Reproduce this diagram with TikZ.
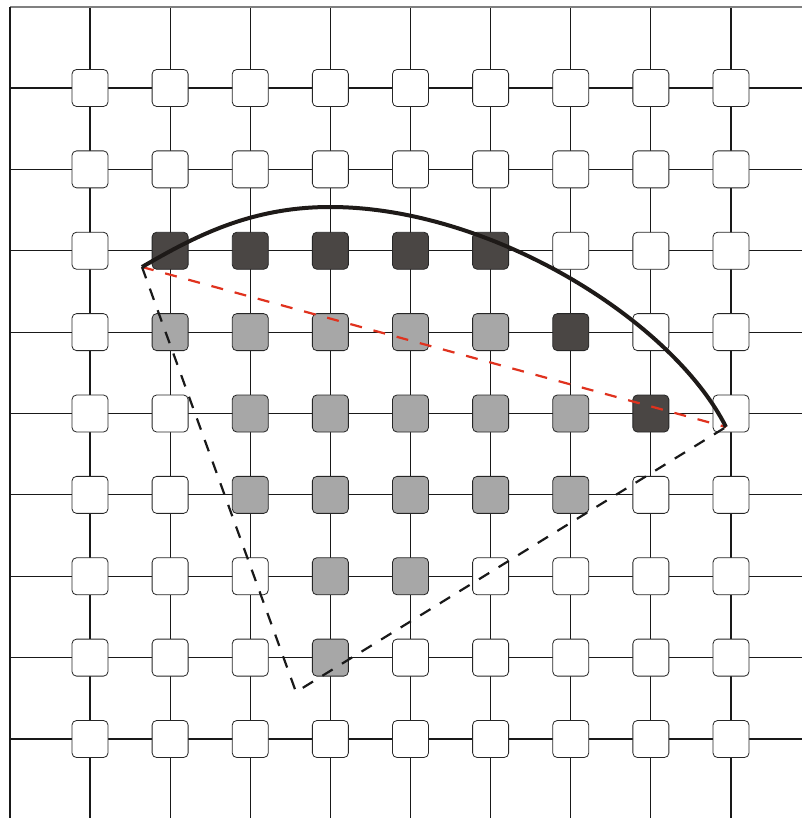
\documentclass[tikz,border=0pt]{standalone}
\definecolor{cellDark}{HTML}{4A4644}
\definecolor{cellGray}{HTML}{A7A7A7}
\definecolor{redline}{HTML}{E0321E}
\definecolor{arcCol}{HTML}{1E1A18}
\begin{document}
\begin{tikzpicture}[x=1pt,y=-1pt,
  gridline/.style={line width=1.1pt, black!90},
  cell/.style={draw=black!85, line width=0.8pt, rounded corners=4.5pt,
    minimum width=36pt, minimum height=37pt, inner sep=0pt, fill=white},
  darkfill/.style={fill=cellDark},
  grayfill/.style={fill=cellGray},
  c-1-2/.style=darkfill, c-2-2/.style=darkfill, c-3-2/.style=darkfill,
  c-4-2/.style=darkfill, c-5-2/.style=darkfill, c-6-3/.style=darkfill,
  c-7-4/.style=darkfill,
  c-1-3/.style=grayfill, c-2-3/.style=grayfill, c-3-3/.style=grayfill,
  c-4-3/.style=grayfill, c-5-3/.style=grayfill,
  c-2-4/.style=grayfill, c-3-4/.style=grayfill, c-4-4/.style=grayfill,
  c-5-4/.style=grayfill, c-6-4/.style=grayfill,
  c-2-5/.style=grayfill, c-3-5/.style=grayfill, c-4-5/.style=grayfill,
  c-5-5/.style=grayfill, c-6-5/.style=grayfill,
  c-3-6/.style=grayfill, c-4-6/.style=grayfill,
  c-3-7/.style=grayfill,
  reddash/.style={draw=redline, line width=2.2pt, dash pattern=on 12pt off 12pt},
  blackdash/.style={draw=black!90, line width=2.2pt, dash pattern=on 12pt off 11pt},
  arcline/.style={draw=arcCol, line width=4pt}
]
\useasboundingbox (0,0) rectangle (802,818);
\fill[white] (0,0) rectangle (802,818);
% grid lines
\foreach \i in {0,...,8} {
  \coordinate (vt-\i) at ({90+80.125*\i},7);
  \coordinate (vb-\i) at ({90+80.125*\i},818);
  \draw[gridline] (vt-\i) -- (vb-\i);
}
\foreach \j in {0,...,8} {
  \coordinate (hl-\j) at (10,{88+81.375*\j});
  \coordinate (hr-\j) at (802,{88+81.375*\j});
  \draw[gridline] (hl-\j) -- (hr-\j);
}
% borders
\coordinate (tl) at (10,7);
\coordinate (tr) at (802,7);
\coordinate (bl) at (10,818);
\draw[line width=2pt, black!50] (tl) -- (tr);
\draw[line width=1.2pt, black!90] (tl) -- (bl);
% cells
\foreach \j in {0,...,8} {
  \foreach \i in {0,...,8} {
    \node[cell, c-\i-\j/.try] (s-\i-\j) at ({90+80.125*\i},{88+81.375*\j}) {};
  }
}
% construction lines
\coordinate (A) at (142,267);
\coordinate (B) at (726,427);
\coordinate (C) at (296,692);
\coordinate (P) at (330,207);
\draw[reddash] (A) -- (B);
\draw[blackdash] (A) -- (C) -- (B);
\draw[arcline] (A) .. controls (193.6,237) and (250,207) .. (P)
               .. controls (490,207) and (672,320) .. (B);
\end{tikzpicture}
\end{document}
